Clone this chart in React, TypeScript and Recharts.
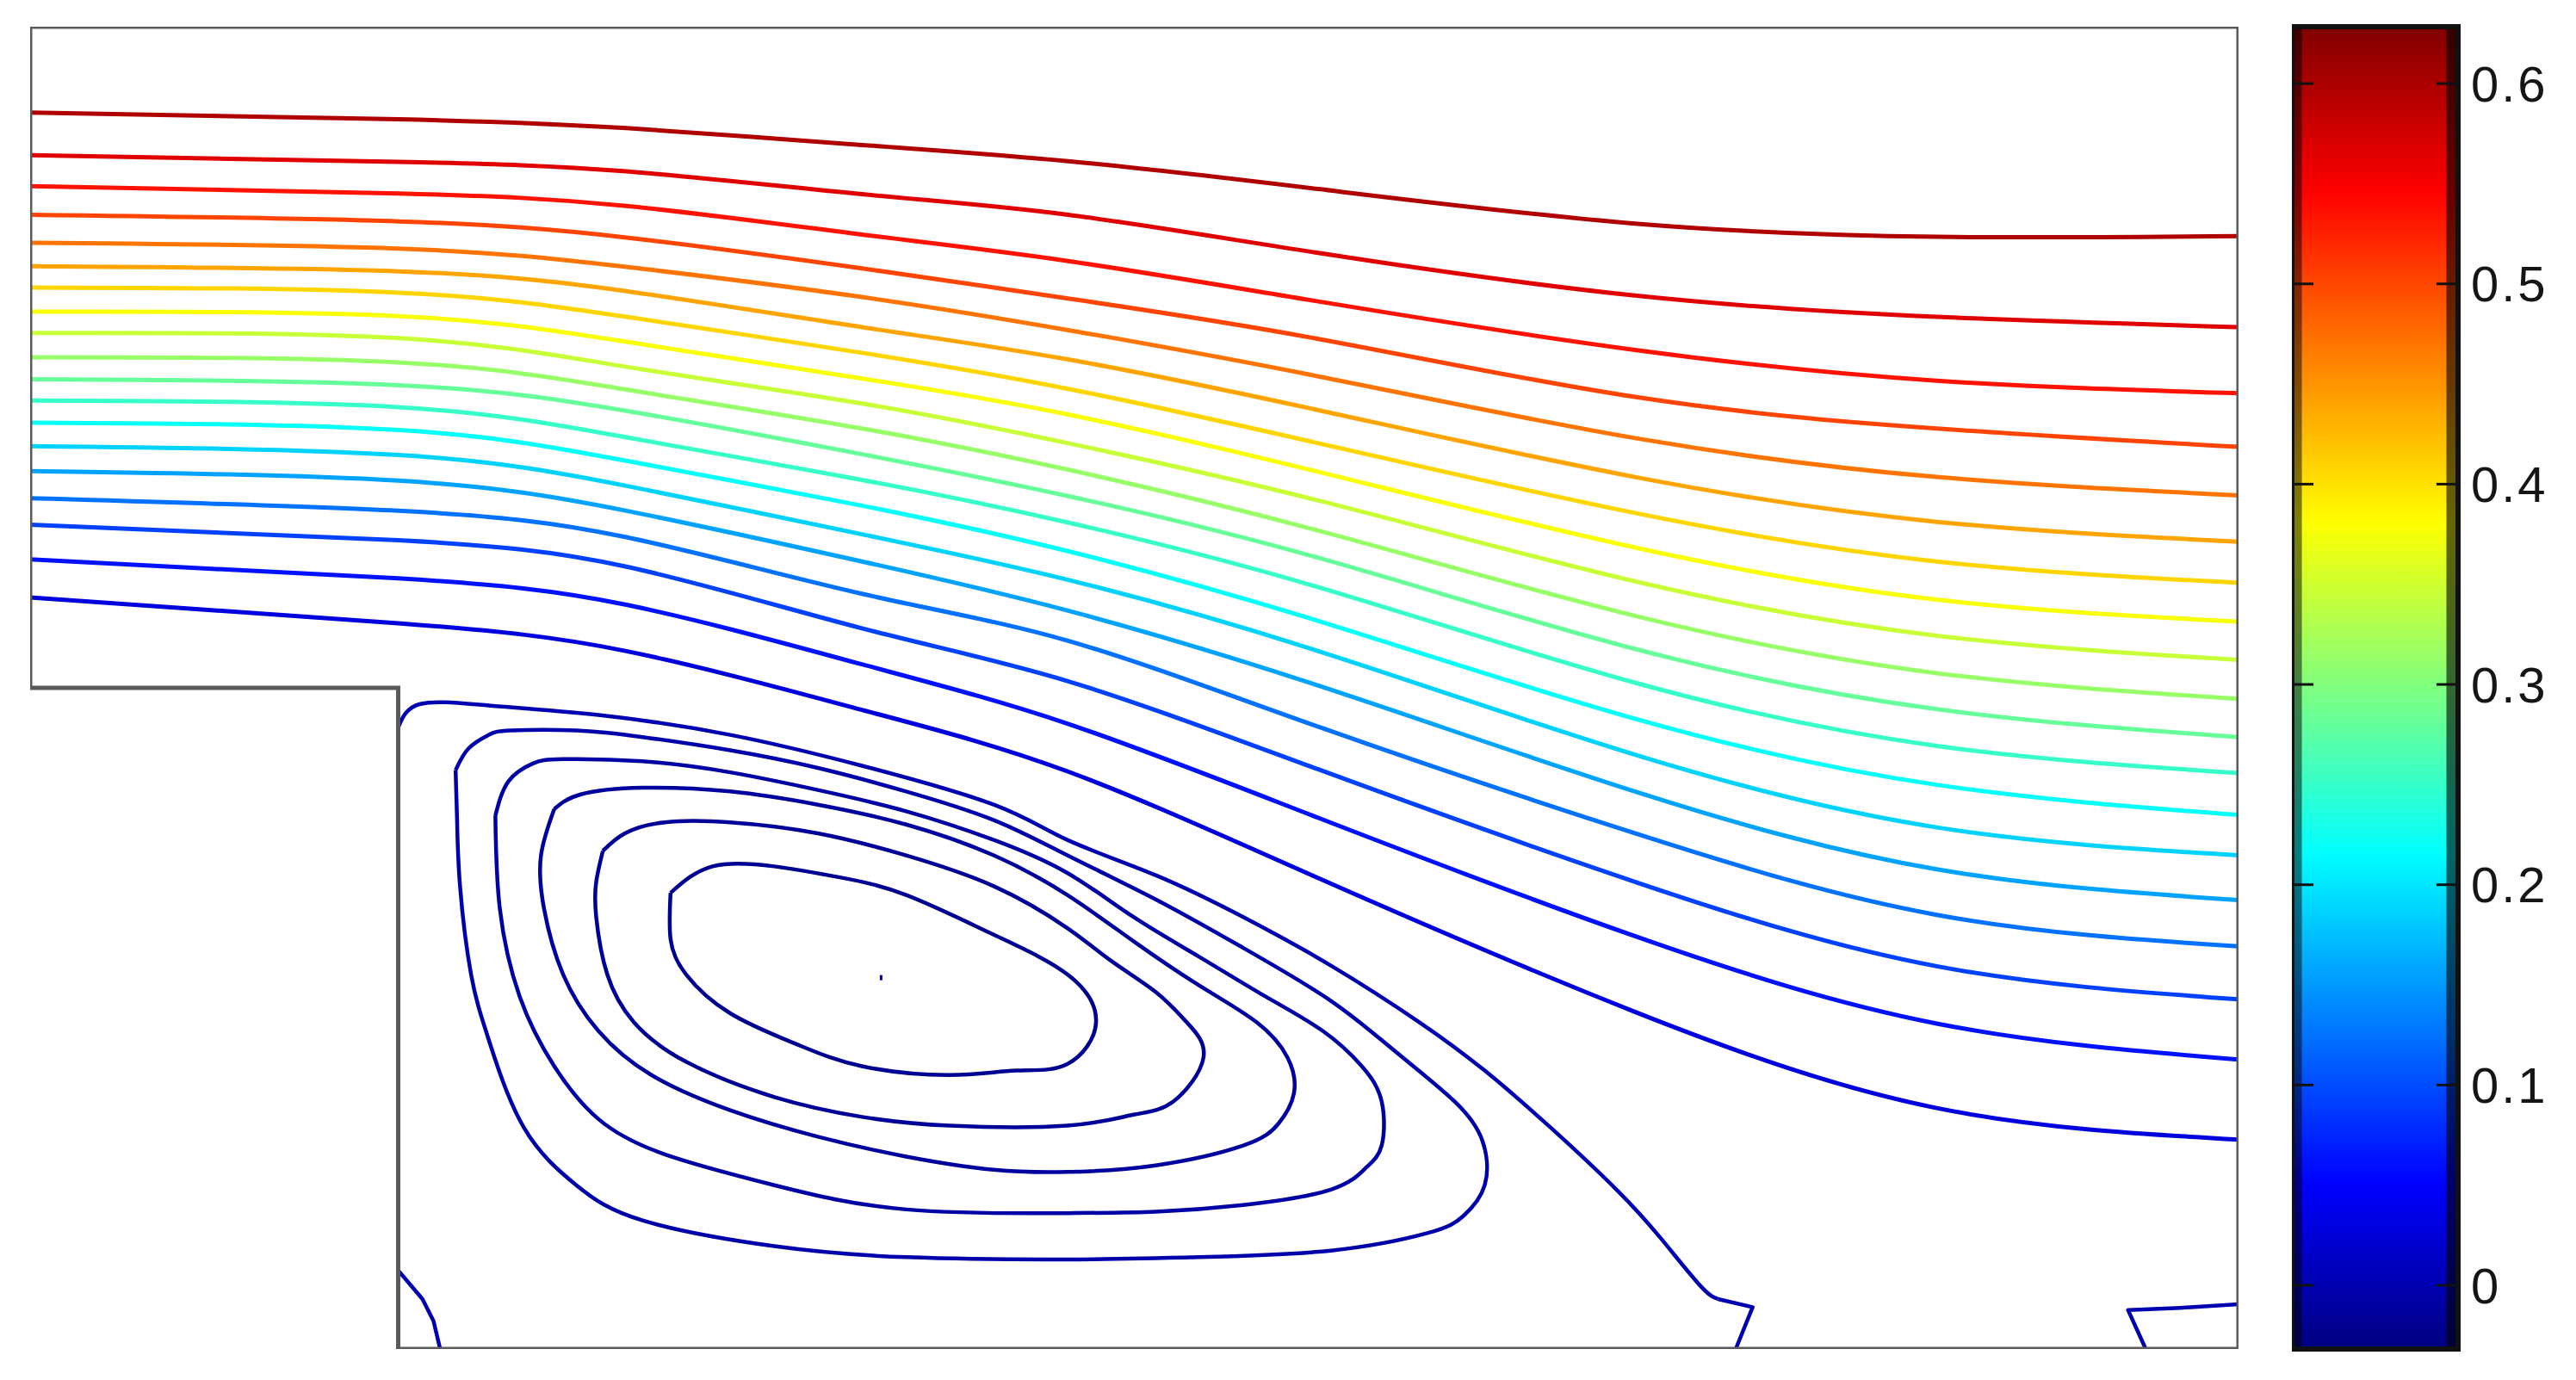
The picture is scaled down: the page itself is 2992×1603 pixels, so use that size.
import React from 'react';
import {
  LineChart,
  Line,
  XAxis,
  YAxis,
  ComposedChart,
  ReferenceArea,
  ReferenceLine,
} from 'recharts';

// colour scale of the stream function (jet)
const CB_MIN = -0.0318;
const CB_MAX = 0.6284;
const cbTicks = [0, 0.1, 0.2, 0.3, 0.4, 0.5, 0.6];
const jetStops = [0, 0.125, 0.375, 0.625, 0.875, 1];

// channel: x 0..30, y 0..18, backward step corner at (5, 9)
const wallOutline: [number, number][] = [
  [0, 18], [30, 18], [30, 0], [5, 0], [5, 9], [0, 9], [0, 18],
];

// stations along the channel where the through-streamlines were read
const stationX = [0, 5, 8.1, 11.3, 14.1, 17.5, 21.8, 25.9, 30];

// contour level of each through-streamline (top to bottom)
const streamLevels = [
  0.597, 0.5655, 0.534, 0.5025, 0.471, 0.4395, 0.408, 0.3765, 0.345, 0.3135,
  0.282, 0.2505, 0.219, 0.1875, 0.156, 0.1245, 0.093, 0.0615, 0.03,
];

// y of each through-streamline at stationX
const streamY = [
  [16.83, 16.74, 16.62, 16.39, 16.17, 15.79, 15.32, 15.14, 15.15],
  [16.25, 16.16, 16.03, 15.72, 15.44, 14.92, 14.34, 14.05, 13.91],
  [15.83, 15.73, 15.56, 15.17, 14.81, 14.26, 13.6, 13.18, 13.01],
  [15.44, 15.35, 15.13, 14.71, 14.3, 13.75, 12.96, 12.53, 12.28],
  [15.06, 14.98, 14.73, 14.32, 13.87, 13.24, 12.4, 11.87, 11.62],
  [14.74, 14.67, 14.4, 13.91, 13.47, 12.78, 11.87, 11.26, 10.99],
  [14.45, 14.38, 14.05, 13.56, 13.07, 12.33, 11.38, 10.72, 10.43],
  [14.12, 14.06, 13.71, 13.21, 12.72, 11.94, 10.91, 10.2, 9.9],
  [13.83, 13.76, 13.37, 12.87, 12.33, 11.55, 10.45, 9.71, 9.38],
  [13.5, 13.43, 13.06, 12.53, 11.97, 11.14, 9.98, 9.2, 8.85],
  [13.2, 13.12, 12.77, 12.18, 11.61, 10.77, 9.53, 8.71, 8.33],
  [12.91, 12.82, 12.41, 11.83, 11.25, 10.37, 9.07, 8.21, 7.84],
  [12.61, 12.51, 12.09, 11.48, 10.86, 9.91, 8.58, 7.68, 7.27],
  [12.29, 12.17, 11.75, 11.09, 10.47, 9.5, 8.09, 7.1, 6.72],
  [11.95, 11.82, 11.41, 10.72, 10.05, 9.03, 7.59, 6.53, 6.11],
  [11.58, 11.41, 11.05, 10.28, 9.64, 8.47, 7.02, 5.91, 5.48],
  [11.22, 11.01, 10.65, 9.81, 9.09, 7.89, 6.36, 5.21, 4.76],
  [10.75, 10.49, 10.13, 9.32, 8.51, 7.23, 5.62, 4.43, 3.94],
  [10.23, 9.88, 9.5, 8.7, 7.86, 6.41, 4.59, 3.28, 2.85],
];

// recirculation zone behind the step: dividing streamline and its reattachment kink
const separationLine: [number, number][] = [
  [5.0, 8.46], [5.3, 8.78], [6.23, 8.76], [7.72, 8.63], [9.51, 8.36], [11.3, 7.94],
  [13.09, 7.41], [14.09, 6.93], [15.29, 6.45], [16.48, 5.88], [17.67, 5.22], [18.87, 4.45],
  [19.76, 3.79], [20.66, 3.01], [21.55, 2.17], [22.15, 1.51], [22.69, 0.86], [22.93, 0.68],
];
const reattachKink: [number, number][] = [[22.93, 0.68], [23.4, 0.57], [23.17, 0]];

const loopA: [number, number][] = [
  [5.78, 7.88], [5.96, 8.18], [6.23, 8.36], [6.53, 8.42], [7.42, 8.42], [8.32, 8.33],
  [9.51, 8.15], [10.7, 7.91], [11.9, 7.59], [13.09, 7.2], [14.09, 6.72], [15.29, 6.12],
  [16.48, 5.46], [17.67, 4.74], [18.57, 4.03], [19.35, 3.37], [19.73, 2.83], [19.76, 2.23],
  [19.47, 1.81], [18.99, 1.58], [17.67, 1.34], [15.88, 1.25], [14.09, 1.22], [11.9, 1.25],
  [10.11, 1.4], [8.32, 1.75], [7.42, 2.23], [6.71, 3.01], [6.23, 4.21], [5.99, 5.1],
  [5.84, 6.3], [5.8, 7.2], [5.78, 7.88],
];

const loopB: [number, number][] = [
  [6.32, 7.26], [6.5, 7.73], [6.83, 7.97], [7.24, 8.03], [8.32, 8.0], [9.51, 7.85],
  [10.7, 7.61], [11.9, 7.32], [13.09, 6.93], [14.09, 6.48], [14.99, 5.88], [15.88, 5.34],
  [16.78, 4.8], [17.56, 4.33], [18.09, 3.85], [18.36, 3.37], [18.36, 2.77], [18.15, 2.47],
  [17.67, 2.17], [16.48, 1.96], [15.29, 1.87], [14.09, 1.85], [11.9, 1.9], [10.11, 2.23],
  [8.62, 2.65], [7.72, 3.13], [7.12, 3.85], [6.65, 4.8], [6.38, 6.0], [6.32, 7.26],
];

const loopC: [number, number][] = [
  [7.12, 7.35], [7.48, 7.55], [8.32, 7.64], [9.51, 7.59], [10.7, 7.41], [11.9, 7.14],
  [13.09, 6.72], [14.09, 6.18], [14.99, 5.55], [15.88, 4.95], [16.66, 4.45], [17.08, 3.97],
  [17.17, 3.49], [16.96, 3.07], [16.48, 2.77], [15.29, 2.5], [14.09, 2.41], [13.09, 2.44],
  [11.9, 2.62], [10.7, 2.89], [9.51, 3.25], [8.44, 3.73], [7.72, 4.33], [7.24, 5.1],
  [6.98, 6.0], [6.94, 6.72], [7.12, 7.35],
];

const loopD: [number, number][] = [
  [7.78, 6.78], [8.08, 7.02], [8.62, 7.17], [9.51, 7.17], [10.7, 7.02], [11.9, 6.72],
  [13.09, 6.3], [14.09, 5.73], [14.69, 5.28], [15.29, 4.86], [15.71, 4.45], [15.94, 3.97],
  [15.53, 3.37], [14.99, 3.19], [14.09, 3.04], [12.49, 3.04], [11.3, 3.16],
  [10.11, 3.43], [8.91, 3.91], [8.2, 4.45], [7.84, 5.1], [7.69, 5.88], [7.69, 6.36],
  [7.78, 6.78],
];

const loopE: [number, number][] = [
  [8.7, 6.21], [9.27, 6.57], [10.11, 6.57], [11.0, 6.42], [11.9, 6.18], [13.09, 5.64],
  [14.09, 5.1], [14.48, 4.45], [14.09, 3.88], [13.39, 3.79],
  [12.49, 3.73], [11.3, 3.85], [10.41, 4.15], [9.51, 4.57], [8.91, 5.1], [8.7, 5.58],
  [8.7, 6.21],
];

const vortexCore: [number, number][] = [[11.56, 5.02], [11.56, 5.09]];

// small corner eddies on the lower wall
const cornerEddyLeft: [number, number][] = [[5.0, 1.07], [5.33, 0.68], [5.48, 0.38], [5.57, 0]];
const cornerEddyRight: [number, number][] = [[28.74, 0], [28.5, 0.53], [29.21, 0.56], [30, 0.61]];

// levels for: separation, A, B, C, D, E, core, eddies
const vortexLevels = [0, -0.004, -0.008, -0.012, -0.016, -0.02, -0.024, 0.0005];

function jet(v: number) {
  const t = (v - CB_MIN) / (CB_MAX - CB_MIN);
  const c = (a: number) => Math.round(Math.max(0, Math.min(1, a)) * 255);
  const r = c(Math.min(4 * t - 1.5, -4 * t + 4.5));
  const g = c(Math.min(4 * t - 0.5, -4 * t + 3.5));
  const b = c(Math.min(4 * t + 0.5, -4 * t + 2.5));
  return `rgb(${r},${g},${b})`;
}

const toPoints = (pts: [number, number][]) => pts.map(([x, y]) => ({ x, y }));

const FONT = '"Liberation Sans", Arial, Helvetica, sans-serif';

export default function App() {
  const loops = [separationLine, loopA, loopB, loopC, loopD, loopE];

  return (
    <div style={{ position: 'absolute', left: 0, top: 0, width: 2992, height: 1603, background: '#fff' }}>
      <div style={{ position: 'absolute', left: 0, top: 0 }}>
        <LineChart width={2620} height={1590} margin={{ top: 31, right: 20, bottom: 23, left: 35 }}>
          <XAxis type="number" dataKey="x" domain={[0, 30]} hide allowDataOverflow />
          <YAxis type="number" domain={[0, 18]} hide allowDataOverflow />
          {streamY.map((ys, i) => (
            <Line
              key={`psi-${i}`}
              data={stationX.map((x, j) => ({ x, y: ys[j] }))}
              dataKey="y"
              type="natural"
              stroke={jet(streamLevels[i])}
              strokeWidth={5}
              dot={false}
              activeDot={false}
              isAnimationActive={false}
            />
          ))}
          {loops.map((pts, i) => (
            <Line
              key={`loop-${i}`}
              data={toPoints(pts)}
              dataKey="y"
              type="natural"
              stroke={jet(vortexLevels[i])}
              strokeWidth={4.5}
              strokeLinejoin="round"
              dot={false}
              activeDot={false}
              isAnimationActive={false}
            />
          ))}
          <Line
            data={toPoints(reattachKink)}
            dataKey="y"
            type="linear"
            stroke={jet(vortexLevels[0])}
            strokeWidth={4.5}
            strokeLinejoin="round"
            dot={false}
            activeDot={false}
            isAnimationActive={false}
          />
          <Line
            data={toPoints(vortexCore)}
            dataKey="y"
            type="linear"
            stroke={jet(vortexLevels[6])}
            strokeWidth={3}
            dot={false}
            activeDot={false}
            isAnimationActive={false}
          />
          {[cornerEddyLeft, cornerEddyRight].map((pts, i) => (
            <Line
              key={`eddy-${i}`}
              data={toPoints(pts)}
              dataKey="y"
              type="linear"
              stroke={jet(vortexLevels[7])}
              strokeWidth={4.5}
              strokeLinejoin="round"
              dot={false}
              activeDot={false}
              isAnimationActive={false}
            />
          ))}
          <Line
            data={toPoints(wallOutline)}
            dataKey="y"
            type="linear"
            stroke="#5a5a5a"
            strokeWidth={5}
            strokeLinejoin="miter"
            dot={false}
            activeDot={false}
            isAnimationActive={false}
          />
        </LineChart>
      </div>

      <div style={{ position: 'absolute', left: 2662, top: 0 }}>
        <ComposedChart width={330} height={1590} margin={{ top: 31, right: 0, bottom: 23, left: 0 }}>
          <defs>
            <linearGradient id="jetBar" x1="0" y1="1" x2="0" y2="0">
              {jetStops.map((t) => (
                <stop key={t} offset={t} stopColor={jet(CB_MIN + t * (CB_MAX - CB_MIN))} />
              ))}
            </linearGradient>
          </defs>
          <XAxis type="number" dataKey="x" domain={[0, 1]} hide allowDataOverflow />
          <YAxis
            type="number"
            orientation="right"
            domain={[CB_MIN, CB_MAX]}
            ticks={cbTicks}
            interval={0}
            width={137}
            axisLine={false}
            tickLine={false}
            tickMargin={9}
            allowDataOverflow
            tick={{ fontSize: 58, fill: '#151515', fontFamily: FONT, letterSpacing: 3 }}
          />
          <ReferenceArea x1={0} x2={1} y1={CB_MIN} y2={CB_MAX} fill="url(#jetBar)" fillOpacity={1} stroke="none" />
          <ReferenceArea x1={0} x2={0.06} y1={CB_MIN} y2={CB_MAX} fill="#000" fillOpacity={0.5} stroke="none" />
          <ReferenceArea x1={0.93} x2={1} y1={CB_MIN} y2={CB_MAX} fill="#000" fillOpacity={0.6} stroke="none" />
          {cbTicks.map((v) => (
            <ReferenceLine
              key={`tl-${v}`}
              segment={[{ x: 0, y: v }, { x: 0.13, y: v }]}
              stroke="#111"
              strokeWidth={3}
            />
          ))}
          {cbTicks.map((v) => (
            <ReferenceLine
              key={`tr-${v}`}
              segment={[{ x: 0.87, y: v }, { x: 1, y: v }]}
              stroke="#111"
              strokeWidth={3}
            />
          ))}
          <ReferenceArea
            x1={0}
            x2={1}
            y1={CB_MIN}
            y2={CB_MAX}
            fill="none"
            stroke="#111"
            strokeWidth={6}
          />
        </ComposedChart>
      </div>
    </div>
  );
}
